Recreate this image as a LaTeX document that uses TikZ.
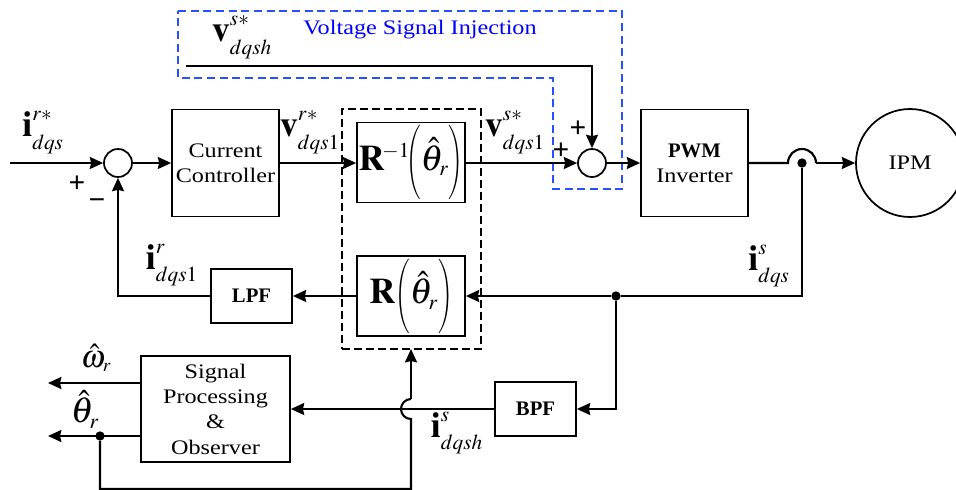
\documentclass[tikz,border=0pt]{standalone}
\usepackage{amsmath}
\usepackage{mathptmx}
\usepackage{fontspec}
\setmainfont{Liberation Serif}[FakeStretch=1.17]
\newfontfamily\timesfont{Liberation Serif}
\usetikzlibrary{arrows.meta}
\DeclareMathSizes{21}{27}{16}{12}
\DeclareMathSizes{19}{24}{14}{10}
\definecolor{injectblue}{RGB}{40,80,255}
\newcommand{\sigvec}[3]{\mathbf{#1}^{\raisebox{2.5pt}{$\scriptstyle #2$}}_{\raisebox{-2.5pt}{$\scriptstyle #3$}}}
\newcommand{\rotarg}{\scalebox{0.55}[0.86]{$\biggl($}\hat{\theta}_r\scalebox{0.55}[0.86]{$\biggr)$}}

\begin{document}
\begin{tikzpicture}[x=0.75pt, y=-0.75pt, >={Stealth[length=10pt,width=9pt,inset=1pt]},
		block/.style={rectangle, draw, line width=1.3pt, align=center, inner sep=0pt, font=\fontsize{15.5}{19}\selectfont},
		rotblock/.style={block, minimum width=81pt, minimum height=60pt, font=\fontsize{21}{24}\selectfont},
		sumdot/.style={circle, draw, line width=1.3pt, inner sep=0pt, minimum size=21pt},
		joint/.style={circle, fill, inner sep=0pt, minimum size=7pt},
		sig/.style={line width=1.6pt},
		dashbox/.style={rectangle, draw, dashed, line width=1.3pt, inner sep=0pt, dash pattern=on 6pt off 3pt},
		injectline/.style={draw=injectblue, line width=0.9pt, dash pattern=on 6pt off 3.5pt},
		biglabel/.style={inner sep=0pt, font=\fontsize{21}{24}\selectfont},
		signlabel/.style={inner sep=0pt, font=\timesfont\bfseries\fontsize{22}{22}\selectfont}]

	\useasboundingbox (0,0) rectangle (956,489);

	% blue region, behind everything
	\draw[injectline] (178,11) -- (622,11) -- (622,189) -- (553,189) -- (553,78) -- (178,78) -- cycle;
	\node[inner sep=0pt, text=blue, font=\fontsize{15.5}{18}\selectfont] (injecttext) at (420,30) {Voltage Signal Injection};

	% blocks
	\node[dashbox, minimum width=104.25pt, minimum height=180pt] (rotframe) at (411.5,229) {};
	\node[block, minimum width=80.25pt, minimum height=80.25pt] (ctrl) at (225.5,163) {Current\\Controller};
	\node[rotblock] (rinv) at (411,162.5) {$\mathbf{R}^{\mkern-2mu-1}\mkern-2mu\rotarg$};
	\node[rotblock] (rmat) at (411,296) {$\mathbf{R}\rotarg$};
	\node[block, minimum width=60.75pt, minimum height=40.5pt] (lpf) at (251.5,296) {\timesfont\bfseries LPF};
	\node[block, minimum width=111.75pt, minimum height=79.5pt] (proc) at (215.5,409) {Signal\\Processing\\\&\\Observer};
	\node[block, minimum width=60.75pt, minimum height=40.5pt] (bpf) at (535.5,409) {\timesfont\bfseries BPF};
	\node[block, minimum width=80.25pt, minimum height=80.25pt] (pwm) at (694.5,163) {{\timesfont\bfseries PWM}\\Inverter};
	\node[block, circle, minimum size=81pt] (ipm) at (910,163) {IPM};
	\node[sumdot] (suma) at (118,163) {};
	\node[sumdot] (sumb) at (592,163) {};

	% junctions and free ends
	\coordinate (refin) at (10,163);
	\coordinate (injstart) at (186,66);
	\coordinate (injcorner) at (592,66);
	\node[joint] (idot) at (802,163) {};
	\coordinate (icorner) at (802,296);
	\node[joint] (bdot) at (616,296) {};
	\coordinate (bcorner) at (616,409);
	\coordinate (lpfcorner) at (118,296);
	\coordinate (omegaout) at (48,383);
	\coordinate (thetaout) at (48,436);
	\node[joint] (tdot) at (100,436) {};
	\coordinate (tlow) at (100,489);
	\coordinate (flow) at (411,489);
	\coordinate (hopin) at (411,419);
	\coordinate (hopout) at (411,399);
	\coordinate (flowtop) at (411,349);
	\coordinate (jumpa) at (788,163);
	\coordinate (jumpb) at (816,163);

	% connectors
	\draw[->,sig] (refin) -- (suma);
	\draw[->,sig] (suma) -- (ctrl);
	\draw[->,sig] (ctrl) -- (ctrl -| rinv.west);
	\draw[->,sig] (rinv.east |- sumb) -- (sumb);
	\draw[->,sig] (sumb) -- (pwm);
	\draw[->,sig] (injstart) -- (injcorner) -- (sumb);
	\draw[sig] (pwm) -- (jumpa) arc[start angle=180, end angle=0, radius=10.5pt];
	\draw[->,sig] (jumpb) -- (ipm);
	\draw[sig] (idot) -- (icorner) -- (bdot);
	\draw[->,sig] (bdot) -- (rmat);
	\draw[->,sig] (bdot) -- (bcorner) -- (bpf);
	\draw[->,sig] (rmat) -- (lpf);
	\draw[->,sig] (lpf) -- (lpfcorner) -- (suma);
	\draw[->,sig] (bpf) -- (proc);
	\draw[->,sig] (proc.west |- omegaout) -- (omegaout);
	\draw[->,sig] (proc.west |- thetaout) -- (thetaout);
	\draw[sig] (tdot) -- (tlow) -- (flow) -- (hopin) arc[start angle=-90, end angle=-270, radius=7.5pt];
	\draw[->,sig] (hopout) -- (flowtop);

	% signal labels
	\node[biglabel] (lbliref) at (43,132) {$\sigvec{i}{r*}{dqs}$};
	\node[biglabel] (lblvrot) at (310,132) {$\sigvec{v}{r*}{dqs1}$};
	\node[biglabel] (lblvsta) at (515,132) {$\sigvec{v}{s*}{dqs1}$};
	\node[biglabel] (lblvinj) at (242,37) {$\sigvec{v}{s*}{dqsh}$};
	\node[biglabel] (lblirot) at (172,265) {$\sigvec{i}{r}{dqs1}$};
	\node[biglabel] (lblista) at (769,266) {$\sigvec{i}{s}{dqs}$};
	\node[biglabel] (lblihf) at (457,433) {$\sigvec{i}{s}{dqsh}$};
	\node[inner sep=0pt, font=\fontsize{19}{22}\selectfont] (lblomega) at (96,358) {$\hat{\omega}_r$};
	\node[biglabel] (lbltheta) at (85,409) {$\hat{\theta}_r$};
	\node[signlabel] (plusa) at (77,184) {+};
	\node[signlabel] (minusa) at (97,204) {−};
	\node[signlabel] (plusb) at (578,129) {+};
	\node[signlabel] (plusc) at (561,151) {+};
\end{tikzpicture}
\end{document}
